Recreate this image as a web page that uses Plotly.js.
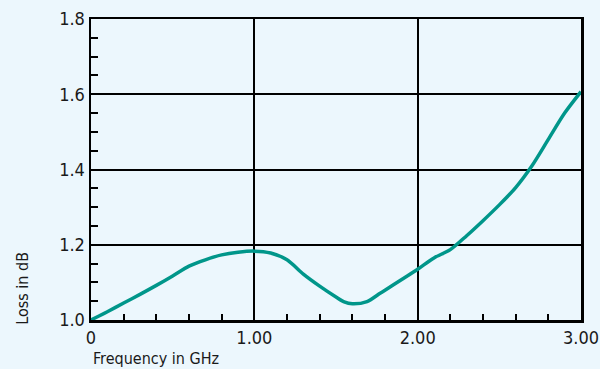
<!DOCTYPE html>
<html>
<head>
<meta charset="utf-8">
<script src="https://cdn.plot.ly/plotly-3.0.1.min.js"></script>
<style>
html,body{margin:0;padding:0;background:#ECF7FD;}
#chart{width:600px;height:369px;}
#chart svg text{font-stretch:condensed !important;}
</style>
</head>
<body>
<div id="chart"></div>
<script>
const frequencyGHz = [0, 0.1, 0.2, 0.3, 0.4, 0.5, 0.6, 0.7, 0.8, 0.9, 1.0, 1.1, 1.2, 1.3, 1.4, 1.5, 1.55, 1.6, 1.69, 1.77, 1.8, 1.9, 2.0, 2.1, 2.2, 2.3, 2.4, 2.5, 2.6, 2.7, 2.8, 2.9, 3.0];
const lossDB = [1.000, 1.022, 1.045, 1.068, 1.092, 1.117, 1.143, 1.160, 1.173, 1.180, 1.183, 1.178, 1.160, 1.122, 1.090, 1.061, 1.048, 1.043, 1.049, 1.071, 1.079, 1.107, 1.135, 1.165, 1.187, 1.224, 1.264, 1.306, 1.352, 1.410, 1.480, 1.550, 1.607];
const xTickVals = [0, 1, 2, 3];
const xTickText = ["0", "1.00", "2.00", "3.00"];
const yTickVals = [1.0, 1.2, 1.4, 1.6, 1.8];
const yTickText = ["1.0", "1.2", "1.4", "1.6", "1.8"];

const FONT = '"DejaVu Sans Condensed", "DejaVu Sans", sans-serif';

const trace = {
  x: frequencyGHz,
  y: lossDB,
  type: 'scatter',
  mode: 'lines',
  line: {color: '#00968A', width: 3.5, shape: 'spline', smoothing: 0.8},
  hoverinfo: 'none',
  cliponaxis: false
};

const layout = {
  width: 600,
  height: 369,
  margin: {l: 91, r: 19, t: 19, b: 49},
  paper_bgcolor: '#ECF7FD',
  plot_bgcolor: '#ECF7FD',
  showlegend: false,
  font: {family: FONT, size: 18, color: '#1a1a1a'},
  xaxis: {
    range: [-0.0001, 3.0001],
    tickmode: 'array',
    tickvals: xTickVals,
    ticktext: xTickText,
    ticks: 'inside',
    ticklen: 6,
    tickwidth: 2,
    tickcolor: '#000',
    showgrid: true,
    gridcolor: '#000',
    gridwidth: 2,
    zeroline: false,
    showline: true,
    linecolor: '#000',
    linewidth: 2.5,
    mirror: true,
    ticklabeloverflow: 'allow',
    tickfont: {family: FONT, size: 18, color: '#1a1a1a'},
    minor: {dtick: 0.2, tick0: 0, ticks: 'inside', ticklen: 6, tickwidth: 2, tickcolor: '#000', showgrid: false}
  },
  yaxis: {
    range: [0.9999, 1.8001],
    tickmode: 'array',
    tickvals: yTickVals,
    ticktext: yTickText,
    ticks: 'inside',
    ticklen: 7,
    tickwidth: 2,
    tickcolor: '#000',
    showgrid: true,
    gridcolor: '#000',
    gridwidth: 2,
    zeroline: false,
    showline: true,
    linecolor: '#000',
    linewidth: 2.5,
    mirror: true,
    ticklabeloverflow: 'allow',
    tickfont: {family: FONT, size: 18, color: '#1a1a1a'},
    minor: {dtick: 0.05, tick0: 1.0, ticks: 'inside', ticklen: 7, tickwidth: 2, tickcolor: '#000', showgrid: false}
  },
  annotations: [
    {
      text: 'Frequency in GHz',
      xref: 'paper', yref: 'paper',
      x: 0, y: -0.128,
      xanchor: 'left', yanchor: 'middle',
      showarrow: false,
      font: {family: FONT, size: 16, color: '#1a1a1a'}
    },
    {
      text: 'Loss in dB',
      xref: 'paper', yref: 'paper',
      x: -0.14, y: 0.105,
      xanchor: 'center', yanchor: 'middle',
      textangle: -90,
      showarrow: false,
      font: {family: FONT, size: 16, color: '#1a1a1a'}
    }
  ]
};

Plotly.newPlot('chart', [trace], layout, {staticPlot: true, displayModeBar: false});
</script>
</body>
</html>
